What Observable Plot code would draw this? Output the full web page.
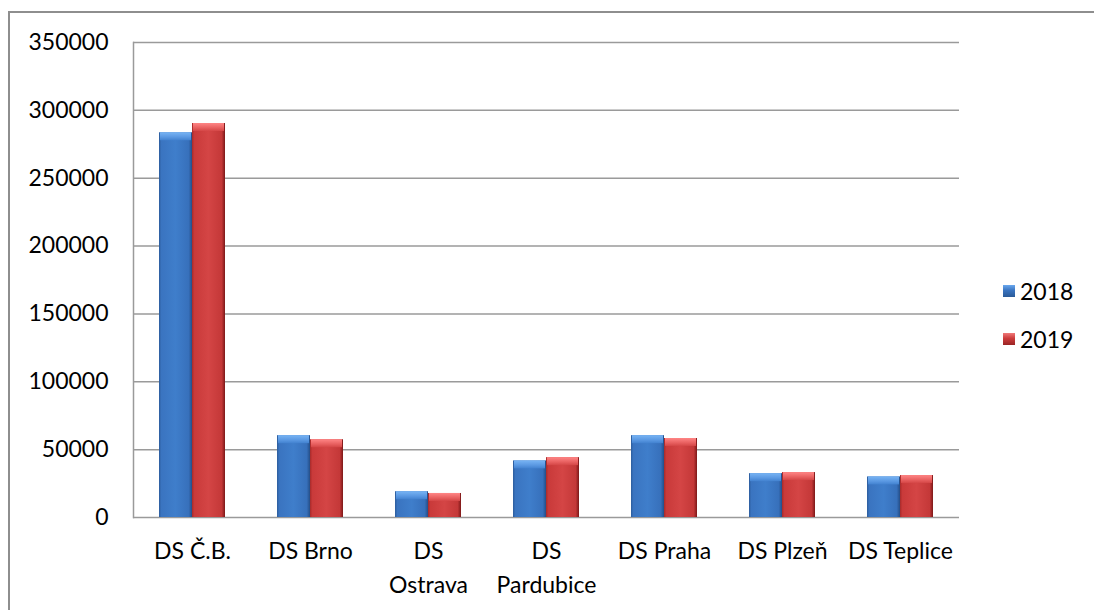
<!DOCTYPE html>
<html>
<head>
<meta charset="utf-8">
<script src="https://cdn.jsdelivr.net/npm/d3@7"></script>
<script src="https://cdn.jsdelivr.net/npm/@observablehq/plot@0.6"></script>
<style>
  html, body { margin: 0; padding: 0; background: #fff; overflow: hidden; }
  #wrap { position: relative; width: 1094px; height: 610px; overflow: hidden; font-family: Lato, sans-serif; }
  #border { position: absolute; left: 8px; top: 11px; width: 1200px; height: 700px;
            border-left: 2px solid #8e8e8e; border-top: 2px solid #8e8e8e; box-sizing: border-box; }
  #chart { position: absolute; left: 0; top: 0; }
  .key { position: absolute; left: 1003px; display: flex; align-items: center; font-size: 23px; color: #000; }
  .key span.sw { width: 12px; height: 12px; margin-right: 5px; display: inline-block; }
</style>
</head>
<body>
<div id="wrap">
  <div id="border"></div>
  <div id="chart"></div>
  <div class="key" style="top:277px"><span class="sw" style="background:linear-gradient(#6aa8ee,#3a74c0 45%,#2a5a98)"></span>2018</div>
  <div class="key" style="top:325px"><span class="sw" style="background:linear-gradient(#f07a7a,#cc3c3c 45%,#9a2424)"></span>2019</div>
</div>
<script>
// Depots and yearly totals
const categories = ["DS Č.B.", "DS Brno", "DS Ostrava", "DS Pardubice", "DS Praha", "DS Plzeň", "DS Teplice"];
const tickLabels = ["DS Č.B.", "DS Brno", "DS\nOstrava", "DS\nPardubice", "DS Praha", "DS Plzeň", "DS Teplice"];
const series = ["2018", "2019"];
const values2018 = [283500, 60300, 19000, 41700, 60300, 32300, 29900];
const values2019 = [290300, 57300, 17700, 44100, 58200, 33100, 30900];
const yTicks = [0, 50000, 100000, 150000, 200000, 250000, 300000, 350000];

const rows = categories.flatMap((c, i) => [
  {depot: c, year: series[0], value: values2018[i]},
  {depot: c, year: series[1], value: values2019[i]}
]);
const labelOf = new Map(categories.map((c, i) => [c, tickLabels[i]]));

// Gradient definitions for the bevelled bar look
function defs() {
  const d = d3.create("svg:defs");
  const grad = (id, stops, vertical) => {
    const g = d.append("linearGradient").attr("id", id)
      .attr("x1", 0).attr("y1", 0).attr("x2", vertical ? 0 : 1).attr("y2", vertical ? 1 : 0);
    for (const [o, c] of stops) g.append("stop").attr("offset", o).attr("stop-color", c);
  };
  grad("body2018", [[0, "#2c5c9c"], [0.07, "#3a74c0"], [0.5, "#3f7ecb"], [0.9, "#3770bb"], [1, "#244e88"]]);
  grad("body2019", [[0, "#a62a2a"], [0.07, "#c93a3a"], [0.5, "#d44545"], [0.9, "#c43838"], [1, "#7c1818"]]);
  grad("top2018", [[0, "#78b4f4"], [0.6, "#5a98e2"], [1, "#4282d0"]], true);
  grad("top2019", [[0, "#ff8686"], [0.6, "#e86060"], [1, "#d44646"]], true);
  return d.node();
}

const data18 = rows.filter(d => d.year === "2018");
const data19 = rows.filter(d => d.year === "2019");

const chart = Plot.plot({
  width: 1094,
  height: 610,
  marginLeft: 131,
  marginRight: 134,
  marginTop: 42,
  marginBottom: 93,
  style: {fontFamily: "Lato, sans-serif", fontSize: "23px", color: "#000", background: "transparent"},
  fx: {domain: categories, padding: 0},
  x: {domain: series, paddingInner: 0, paddingOuter: 0.744, axis: null},
  y: {domain: [0, 350000]},
  marks: [
    defs,
    Plot.gridY(yTicks, {stroke: "#9a9a9a", strokeOpacity: 1, strokeWidth: 1.5}),
    Plot.frame({anchor: "left", facetAnchor: "left", stroke: "#9a9a9a", strokeWidth: 1.5}),
    Plot.barY(data18, {fx: "depot", x: "year", y: "value", fill: "url(#body2018)"}),
    Plot.barY(data19, {fx: "depot", x: "year", y: "value", fill: "url(#body2019)"}),
    Plot.barY(data18, {fx: "depot", x: "year", y1: "value", y2: "value", insetBottom: -8, insetLeft: 1, insetRight: 1, fill: "url(#top2018)"}),
    Plot.barY(data19, {fx: "depot", x: "year", y1: "value", y2: "value", insetBottom: -8, insetLeft: 1, insetRight: 1, fill: "url(#top2019)"}),
    Plot.axisY(yTicks, {tickSize: 0, tickPadding: 25, tickFormat: d => String(d), label: null}),
    Plot.axisFx({anchor: "bottom", tickSize: 0, tickPadding: 17, lineHeight: 1.48,
                 tickFormat: d => labelOf.get(d), label: null})
  ]
});
document.getElementById("chart").appendChild(chart);
</script>
</body>
</html>
